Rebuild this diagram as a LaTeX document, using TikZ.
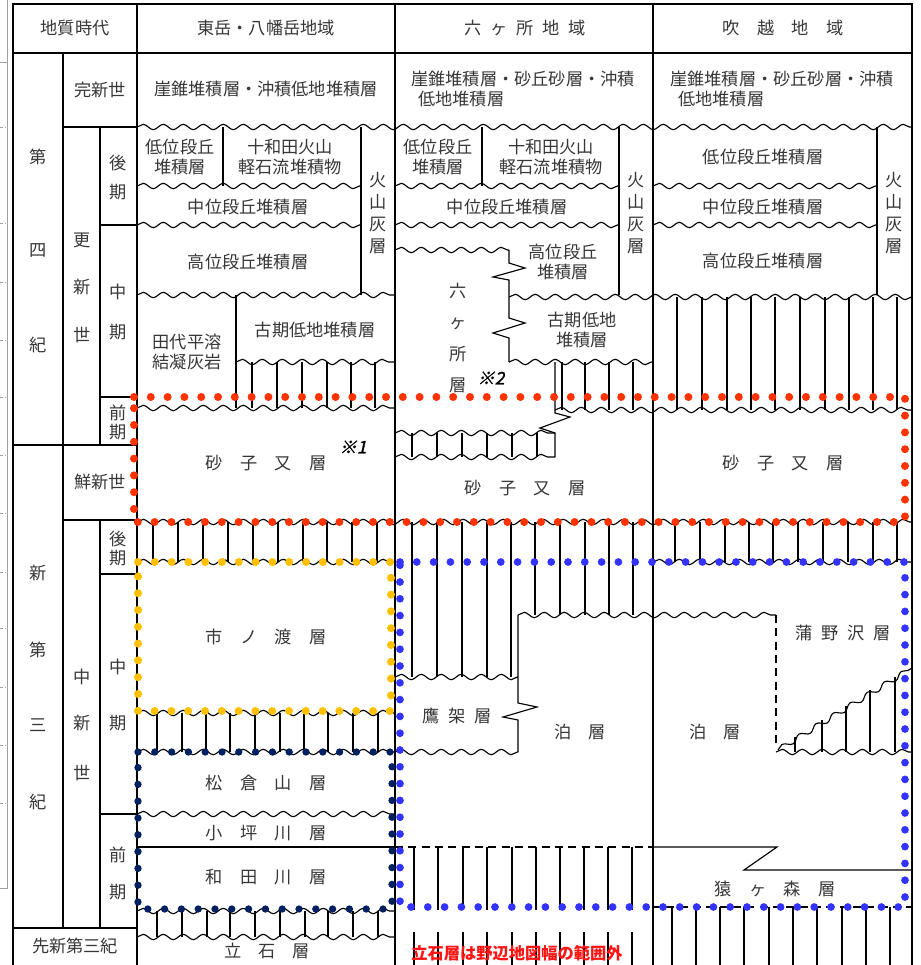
\documentclass[tikz,border=0pt]{standalone}
\usepackage{fontspec}
\newfontfamily\cjk{Noto Sans CJK JP}
\newfontfamily\cjkslant[FakeSlant=0.22,FakeBold=1.5]{Noto Sans CJK JP}
\usetikzlibrary{decorations.pathmorphing,decorations.markings}
\definecolor{txt}{RGB}{55,55,55}
\definecolor{dotred}{RGB}{255,51,0}
\definecolor{dotorange}{RGB}{255,192,0}
\definecolor{dotnavy}{RGB}{0,32,96}
\definecolor{dotblue}{RGB}{51,51,255}
\definecolor{notered}{RGB}{255,20,20}
\definecolor{edgegray}{RGB}{160,160,160}
\newcommand\hatchset[3]{\foreach \hx in {#1} \draw[hatchline] (\hx,#2) -- (\hx,#3);}
\begin{document}
\begin{tikzpicture}[x=0.75pt,y=-0.75pt,
  frameline/.style={line width=1.1pt},
  ruleline/.style={line width=0.85pt},
  wavyline/.style={line width=0.85pt, decorate, decoration={snake, segment length=15pt, amplitude=2pt}},
  hatchline/.style={line width=0.8pt},
  dashline/.style={line width=0.85pt, dash pattern=on 6pt off 4pt},
  dotbox/.style 2 args={decorate, decoration={markings, mark=between positions 0 and 1 step 12.6pt with {\fill[#1] (0,0) circle (#2);}}},
  lbl/.style={font=\cjk\fontsize{12.9pt}{15pt}\selectfont, text=txt, inner sep=0pt, align=center},
  vlbl/.style={font=\cjk\fontsize{12.9pt}{16.4pt}\selectfont, text=txt, inner sep=0pt, align=center},
  refmark/.style={font=\cjkslant\fontsize{13pt}{15pt}\selectfont, text=black, inner sep=0pt}
]
\useasboundingbox (0,0) rectangle (921,965);
\fill[white] (0,0) rectangle (921,965);

% cut-off neighbour frame at the left edge
\draw[edgegray, line width=0.6pt] (0,62) -- (7,62) (7,0) -- (7,888) -- (0,888);
\foreach \ty in {127,223,282,340,397,455,513,572,628,687,745,803}
  \draw[edgegray, line width=0.5pt, dash pattern=on 2pt off 1.5pt] (0,\ty) -- (6,\ty);

% ---- main frame and columns
\draw[frameline] (13,965) -- (13,4) -- (912,4) -- (912,965);
\draw[ruleline] (13,53) -- (912,53);
\draw[ruleline] (137,4) -- (137,965);
\draw[ruleline] (395,4) -- (395,965);
\draw[ruleline] (653,4) -- (653,965);

% ---- period columns
\draw[ruleline] (63,53) -- (63,928);
\draw[ruleline] (100,127) -- (100,445) (100,520) -- (100,928);
\draw[ruleline] (63,127) -- (137,127);
\draw[ruleline] (100,225) -- (137,225);
\draw[ruleline] (100,397) -- (137,397);
\draw[ruleline] (13,445) -- (137,445);
\draw[ruleline] (63,520) -- (137,520);
\draw[ruleline] (100,574) -- (137,574);
\draw[ruleline] (100,814) -- (137,814);
\draw[ruleline] (13,928) -- (137,928);

% ---- wavy (unconformity) lines
\draw[wavyline] (137,127) -- (912,127);
\draw[wavyline] (137,186) -- (361,186);
\draw[wavyline] (395,186) -- (619,186);
\draw[wavyline] (653,186) -- (877,186);
\draw[wavyline] (137,225) -- (361,225);
\draw[wavyline] (395,225) -- (619,225);
\draw[wavyline] (653,225) -- (877,225);
\draw[wavyline] (395,250) -- (509,250);
\draw[wavyline] (137,295) -- (395,295);
\draw[wavyline] (509,297) -- (912,297);
\draw[wavyline] (236,362) -- (395,362);
\draw[wavyline] (509,362) -- (653,362);
\draw[wavyline] (137,408) -- (395,408);
\draw[wavyline] (555,410) -- (912,410);
\draw[wavyline] (395,433) -- (555,433);
\draw[wavyline] (395,457) -- (555,457);
\draw[wavyline] (137,522) -- (912,522);
\draw[wavyline] (137,562) -- (395,562);
\draw[wavyline] (653,562) -- (912,562);
\draw[wavyline] (518,615) -- (776,615);
\draw[wavyline] (395,677) -- (518,677);
\draw[wavyline] (137,713) -- (395,713);
\draw[wavyline] (137,752) -- (395,752);
\draw[wavyline] (395,752) -- (518,752);
\draw[wavyline] (776,752) -- (912,752);
\draw[wavyline] (778,750) -- (912,668);
\draw[wavyline] (137,814) -- (395,814);
\draw[wavyline] (137,911) -- (395,911);
\draw[wavyline] (137,937) -- (395,937);

% ---- straight boundaries
\draw[ruleline] (223,127) -- (223,186);
\draw[ruleline] (361,127) -- (361,295);
\draw[ruleline] (482,127) -- (482,186);
\draw[ruleline] (619,127) -- (619,295);
\draw[ruleline] (877,127) -- (877,295);
\draw[ruleline] (236,295) -- (236,408);
\draw[ruleline] (509,250) -- (509,263) -- (525,268) -- (493,277) -- (509,280) -- (509,318) -- (525,323) -- (493,333) -- (509,338) -- (509,362);
\draw[ruleline] (555,362) -- (555,413) -- (570,417) -- (540,428) -- (555,433) -- (555,457);
\draw[ruleline] (518,615) -- (518,703) -- (537,707) -- (503,717) -- (518,720) -- (518,752);
\draw[ruleline] (137,847) -- (395,847);
\draw[dashline] (395,847) -- (653,847);
\draw[ruleline] (653,847) -- (777,847) -- (744,870) -- (912,870);
\draw[dashline] (653,907) -- (912,907);
\draw[dashline] (776,615) -- (776,748);

% ---- hatching
\hatchset{252,277,302,327,351,375}{362}{408}
\hatchset{153,178,203,228,253,278,303,327,352,377}{522}{562}
\hatchset{157,182,206,230,255,280,304,328,353,378}{713}{752}
\hatchset{157,182,207,230,255,280,305,328,353,378}{911}{937}
\hatchset{562,585,609,633}{362}{410}
\hatchset{412,437,462,487,512,537}{433}{457}
\hatchset{412,437,462,487,511}{522}{677}
\hatchset{535,560,585,609,633}{522}{615}
\hatchset{414,438,463,487,512,536,560,584,608,632}{847}{910}
\hatchset{414,438,463,487,512,536,560,584,608,632}{932}{965}
\hatchset{677,702,727,751,775,800,825,849,873,897}{297}{410}
\hatchset{675,700,725,749,773,798,823,848,873,897}{522}{562}
\hatchset{672,696,720,744,769,793,817,842,866,890}{907}{965}
\draw[hatchline] (795,737) -- (795,752);
\draw[hatchline] (822,720) -- (822,752);
\draw[hatchline] (846,706) -- (846,752);
\draw[hatchline] (870,690) -- (870,752);
\draw[hatchline] (895,677) -- (895,752);

% ---- dotted frames (round dots)
\path[dotbox={dotred}{3.0pt}] (134,397) -- (905,397) -- (905,522) -- (134,522) -- cycle;
\path[dotbox={dotorange}{3.0pt}] (138,562) -- (391,562) -- (391,711) -- (138,711) -- cycle;
\path[dotbox={dotnavy}{2.75pt}] (138,752) -- (392,752) -- (392,909) -- (138,909) -- cycle;
\path[dotbox={dotblue}{2.9pt}] (400,562) -- (905,562) -- (905,907) -- (400,907) -- cycle;

% ---- header
\node[lbl] (h0) at (75,28) {地質時代};
\node[lbl] (h1) at (266,28) {東岳・八幡岳地域};
\node[lbl] (h2) at (525,28) {六\hspace{6.5pt}ヶ\hspace{6.5pt}所\hspace{6.5pt}地\hspace{6.5pt}域};
\node[lbl] (h3) at (783,28) {吹　越　地　域};

% ---- periods and epochs
\node[lbl] (pa1) at (38,157) {第};
\node[lbl] (pa2) at (38,250) {四};
\node[lbl] (pa3) at (38,345) {紀};
\node[lbl] (pb1) at (38,573) {新};
\node[lbl] (pb2) at (38,650) {第};
\node[lbl] (pb3) at (38,725) {三};
\node[lbl] (pb4) at (38,802) {紀};
\node[lbl] (pc) at (75,946) {先新第三紀};
\node[lbl] (ea) at (100,90) {完新世};
\node[lbl] (eb1) at (82,240) {更};
\node[lbl] (eb2) at (82,287) {新};
\node[lbl] (eb3) at (82,335) {世};
\node[lbl] (ec) at (100,482) {鮮新世};
\node[lbl] (ed1) at (82,677) {中};
\node[lbl] (ed2) at (82,723) {新};
\node[lbl] (ed3) at (82,773) {世};
\node[lbl] (s1a) at (118,163) {後};
\node[lbl] (s1b) at (118,192) {期};
\node[lbl] (s2a) at (118,292) {中};
\node[lbl] (s2b) at (118,332) {期};
\node[lbl] (s3a) at (118,413) {前};
\node[lbl] (s3b) at (118,432) {期};
\node[lbl] (s4a) at (118,539) {後};
\node[lbl] (s4b) at (118,558) {期};
\node[lbl] (s5a) at (118,667) {中};
\node[lbl] (s5b) at (118,723) {期};
\node[lbl] (s6a) at (118,855) {前};
\node[lbl] (s6b) at (118,892) {期};

% ---- Higashidake / Hachimandake
\node[lbl] (a1) at (266,89) {崖錐堆積層・沖積低地堆積層};
\node[lbl] (a2) at (180,157) {低位段丘\\堆積層};
\node[lbl] (a3) at (290,157) {十和田火山\\軽石流堆積物};
\node[lbl] (a4) at (248,207) {中位段丘堆積層};
\node[lbl] (a5) at (248,262) {高位段丘堆積層};
\node[vlbl] (a6) at (378,213) {火\\山\\灰\\層};
\node[lbl] (a7) at (187,352) {田代平溶\\結凝灰岩};
\node[lbl] (a8) at (315,330) {古期低地堆積層};
\node[lbl] (a9) at (266,463) {砂　子　又　層};
\node[refmark] (m1) at (353,447) {※1};
\node[lbl] (a10) at (266,637) {市　ノ　渡　層};
\node[lbl] (a11) at (266,783) {松　倉　山　層};
\node[lbl] (a12) at (266,833) {小　坪　川　層};
\node[lbl] (a13) at (266,877) {和　田　川　層};
\node[lbl] (a14) at (267,951) {立　石　層};

% ---- Rokkasho
\node[lbl, anchor=west] (b1) at (411,79) {崖錐堆積層・砂丘砂層・沖積};
\node[lbl, anchor=west] (b1b) at (418,99) {低地堆積層};
\node[lbl] (b2) at (438,157) {低位段丘\\堆積層};
\node[lbl] (b3) at (551,157) {十和田火山\\軽石流堆積物};
\node[lbl] (b4) at (507,207) {中位段丘堆積層};
\node[lbl] (b5) at (563,262) {高位段丘\\堆積層};
\node[vlbl] (b6) at (636,213) {火\\山\\灰\\層};
\node[lbl, font=\cjk\fontsize{12.9pt}{23.3pt}\selectfont] (b7) at (458,338) {六\\ヶ\\所\\層};
\node[refmark] (m2) at (491,378) {※2};
\node[lbl] (b8) at (582,330) {古期低地\\堆積層};
\node[lbl] (b9) at (525,488) {砂　子　又　層};
\node[lbl] (b10) at (457,716) {鷹\hspace{6.5pt}架\hspace{6.5pt}層};
\node[lbl] (b11) at (580,732) {泊　層};

% ---- Fukkoshi
\node[lbl, anchor=west] (c1) at (670,79) {崖錐堆積層・砂丘砂層・沖積};
\node[lbl, anchor=west] (c1b) at (678,99) {低地堆積層};
\node[lbl] (c2) at (763,157) {低位段丘堆積層};
\node[lbl] (c3) at (763,207) {中位段丘堆積層};
\node[lbl] (c4) at (763,261) {高位段丘堆積層};
\node[vlbl] (c5) at (894,213) {火\\山\\灰\\層};
\node[lbl] (c6) at (783,463) {砂　子　又　層};
\node[lbl] (c7) at (843,633) {蒲\hspace{6.5pt}野\hspace{6.5pt}沢\hspace{6.5pt}層};
\node[lbl] (c8) at (715,732) {泊　層};
\node[lbl] (c9) at (775,889) {猿　ヶ　森　層};

% ---- note
\node[anchor=west, font=\cjk\bfseries\fontsize{12.2pt}{14pt}\selectfont, text=notered, inner sep=0pt] (note) at (411,953) {立石層は野辺地図幅の範囲外};
\end{tikzpicture}
\end{document}
